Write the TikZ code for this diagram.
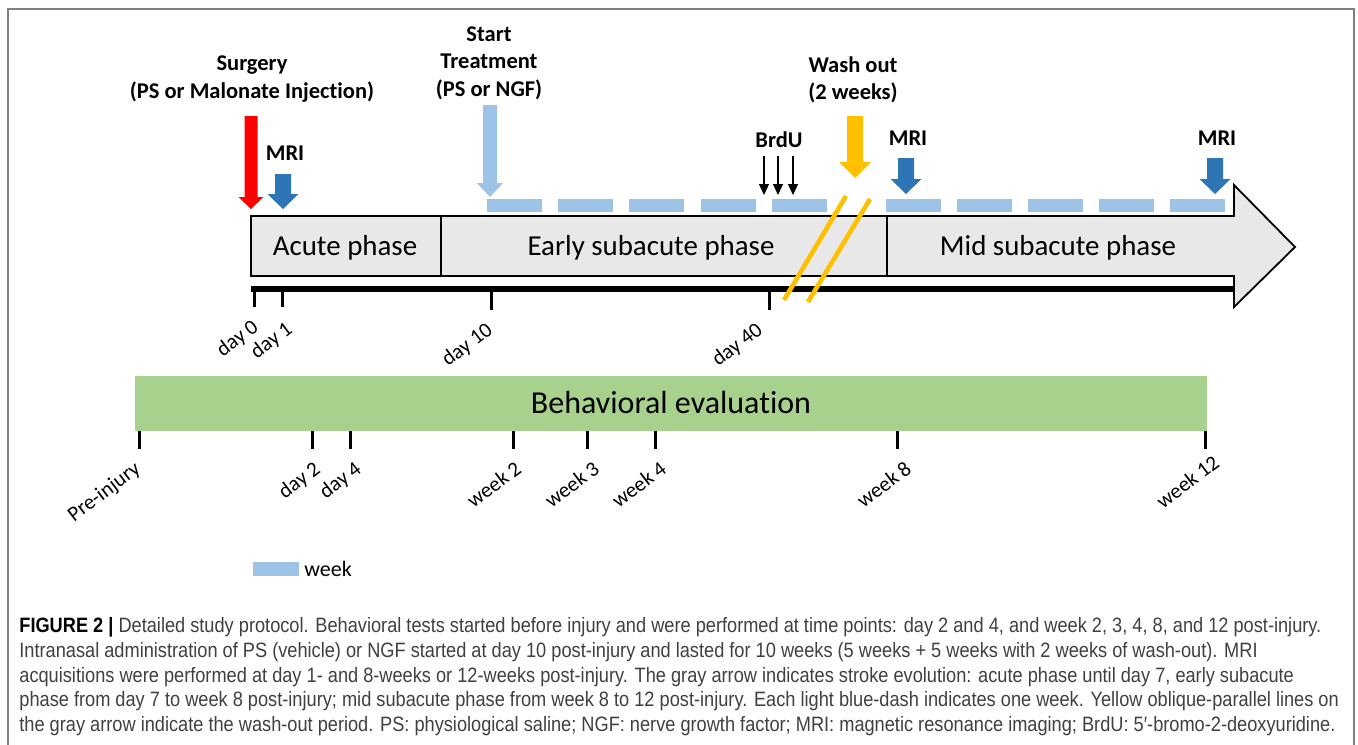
\documentclass[tikz,border=0pt]{standalone}
\usepackage{fontspec}
\setmainfont{Carlito}[Ligatures=NoCommon]
\newfontfamily\capfont[FakeStretch=0.875]{Liberation Sans}
\usetikzlibrary{arrows.meta}

\definecolor{mriblue}{HTML}{2E75B6}
\definecolor{weekblue}{HTML}{9DC3E6}
\definecolor{washyellow}{HTML}{FFC000}
\definecolor{phasegray}{HTML}{E8E8E8}
\definecolor{evalgreen}{HTML}{A9D18E}
\definecolor{framegray}{HTML}{808080}

% block arrow pointing down: colour, x, top, neck, tip, half shaft, half head
\newcommand{\downblock}[7]{%
  \fill[#1] ({#2-#6},#3) -- ({#2+#6},#3) -- ({#2+#6},#4) -- ({#2+#7},#4)
    -- (#2,#5) -- ({#2-#7},#4) -- ({#2-#6},#4) -- cycle;}

\begin{document}
\begin{tikzpicture}[
		x=0.5pt, y=-0.5pt,
		bold label/.style={font=\bfseries\fontsize{11.25}{13.75}\selectfont, align=center, inner sep=0pt},
		phase label/.style={font=\fontsize{14.45}{17}\selectfont, inner sep=0pt},
		tick label/.style={font=\fontsize{10.6}{12}\selectfont, rotate=37, anchor=north east, inner sep=0.5pt},
		week dash/.style={fill=weekblue},
		tick/.style={line width=1.5pt}
	]
  \useasboundingbox (0,0) rectangle (1358,744);
  \draw[framegray, line width=0.8pt] (8,746) -- (8,9) -- (1354,9) -- (1354,746);

  % labels above the arrows
  \node (surgery) [bold label] at (252,79) {Surgery\\(PS or Malonate Injection)};
  \node (treat) [bold label] at (489,63) {Start\\Treatment\\(PS or NGF)};
  \node (wash) [bold label] at (853,80) {Wash out\\(2 weeks)};
  \node (mri_1) [bold label] at (285,153) {MRI};
  \node (mri_2) [bold label] at (908,138) {MRI};
  \node (mri_3) [bold label] at (1217,138) {MRI};
  \node (brdu) [bold label] at (779,140) {BrdU};

  % markers
  \downblock{red}{251}{116}{197}{209}{6.5}{12.5}
  \downblock{mriblue}{283}{174}{194}{209}{8}{15.5}
  \downblock{weekblue}{490}{105}{183}{197}{7}{13}
  \downblock{washyellow}{855}{116}{162}{178}{8}{16}
  \downblock{mriblue}{906}{158}{179}{194}{8}{15.5}
  \downblock{mriblue}{1215}{158}{179}{194}{8}{15.5}
  \foreach \x in {764,778,793}
    \draw[line width=0.6pt, -{Triangle[width=5pt,length=5.5pt]}] (\x,156) -- (\x,195);

  % weeks of treatment
  \foreach \i in {0,...,4} {
    \fill[week dash] ({487+71.2*\i},199) rectangle ({542+71.2*\i},212);
    \fill[week dash] ({886+71*\i},199) rectangle ({941+71*\i},212);
  }

  % time axis
  \draw[line width=3pt] (251,289) -- (1233,289);
  \draw[tick] (254,288) -- (254,307);
  \foreach \x/\b in {282/307, 491/310, 769/310}
    \draw[tick] (\x,289) -- (\x,\b);

  % stroke evolution
  \draw[fill=phasegray, line width=0.9pt] (251,216) -- (1234,216) -- (1234,185) -- (1295,247)
    -- (1234,307) -- (1234,276) -- (251,276) -- cycle;
  \draw[line width=0.9pt] (441,216) -- (441,276);
  \draw[line width=0.9pt] (887,216) -- (887,276);
  \node (acute) [phase label] at (345,248) {Acute phase};
  \node (early) [phase label] at (651,248) {Early subacute phase};
  \node (mid) [phase label] at (1058,248) {Mid subacute phase};

  % wash-out break
  \draw[washyellow, line width=2.3pt] (846,196) -- (784,300);
  \draw[washyellow, line width=2.3pt] (870,199) -- (808,302);

  \node (day_0) [tick label] at (251,316) {day 0};
  \node (day_1) [tick label] at (285,318) {day 1};
  \node (day_10) [tick label] at (485,319) {day 10};
  \node (day_40) [tick label] at (755,319) {day 40};

  % behavioral tests
  \fill[evalgreen] (135,376) rectangle (1207,431);
  \node (eval) [font=\fontsize{16}{19}\selectfont, inner sep=0pt] at (671,403) {Behavioral evaluation};
  \foreach \x/\name/\txt/\lx/\ly in {139/pre/Pre-injury/133/458, 312/d2/day 2/313/458,
      350/d4/day 4/354/458, 513/w2/week 2/514/458, 587/w3/week 3/592/458,
      655/w4/week 4/659/458, 897/w8/week 8/904/458, 1205/w12/week 12/1212/452} {
    \draw[tick] (\x,431) -- (\x,449);
    \node (eval_\name) [tick label] at (\lx,\ly) {\txt};
  }

  % legend
  \fill[week dash] (253,562) rectangle (299,576);
  \node (legend) [anchor=west, inner sep=0pt, font=\fontsize{11}{13}\selectfont] at (304,569) {week};

  % caption
  \node (caption) [anchor=north west, inner sep=0pt, align=left, text=black!75,
      font=\capfont\fontsize{10.4}{12.4}\selectfont] at (19,617)
    {{\color{black}\bfseries FIGURE 2 |} Detailed study protocol. Behavioral tests started before injury and were performed at time points: day 2 and 4, and week 2, 3, 4, 8, and 12 post-injury.\\
     Intranasal administration of PS (vehicle) or NGF started at day 10 post-injury and lasted for 10 weeks (5 weeks + 5 weeks with 2 weeks of wash-out). MRI\\
     acquisitions were performed at day 1- and 8-weeks or 12-weeks post-injury. The gray arrow indicates stroke evolution: acute phase until day 7, early subacute\\
     phase from day 7 to week 8 post-injury; mid subacute phase from week 8 to 12 post-injury. Each light blue-dash indicates one week. Yellow oblique-parallel lines on\\
     the gray arrow indicate the wash-out period. PS: physiological saline; NGF: nerve growth factor; MRI: magnetic resonance imaging; BrdU: 5′-bromo-2-deoxyuridine.};
\end{tikzpicture}
\end{document}
